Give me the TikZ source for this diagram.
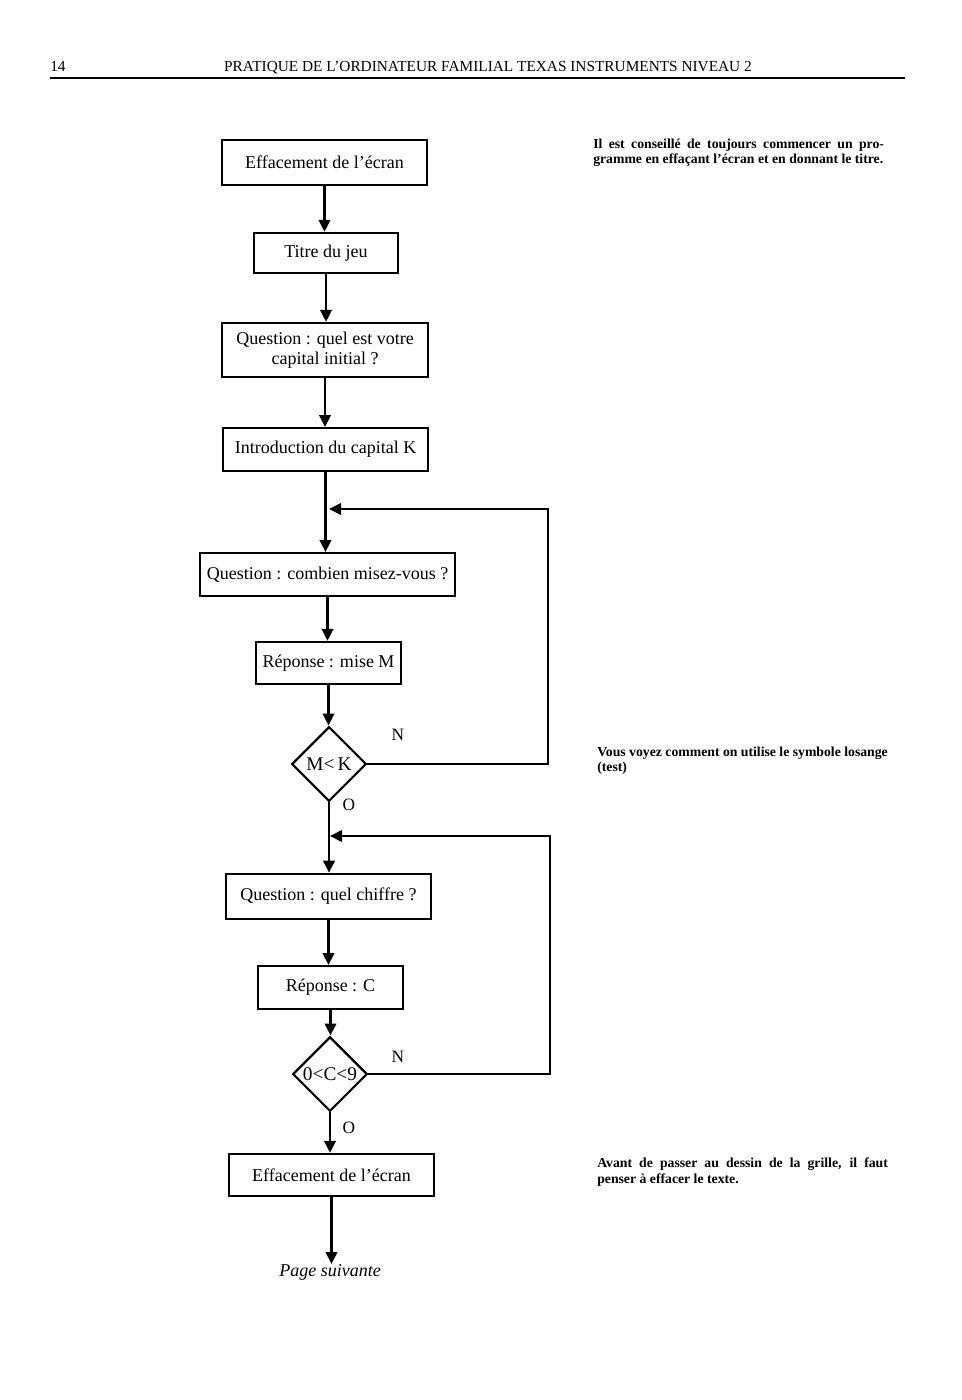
\documentclass[tikz,border=0pt]{standalone}
\usepackage{fontspec}
\setmainfont{Liberation Serif}
\usetikzlibrary{shapes.geometric,arrows.meta}
\tikzset{
  stepbox/.style={draw,line width=1.7pt,inner sep=2pt,align=center,font=\fontsize{13.5}{14.5}\selectfont},
  testbox/.style={draw,diamond,line width=1.7pt,inner sep=0pt,minimum width=56pt,minimum height=56pt,font=\fontsize{14.5}{15}\selectfont},
  flow/.style={line width=2pt,-{Triangle[length=9pt,width=8.5pt]}},
  note/.style={anchor=north west,inner sep=0pt,text width=218pt,align=justify,font=\fontsize{10.3}{11.3}\selectfont\bfseries},
  lbl/.style={font=\fontsize{13}{14}\selectfont,inner sep=0pt}
}
\begin{document}
\begin{tikzpicture}[x=0.75pt,y=-0.75pt]
\useasboundingbox (0,0) rectangle (961,1400);
% header
\node[anchor=base west,inner sep=0pt,font=\fontsize{11.5}{12}\selectfont] (pnum) at (50,71) {14};
\node[anchor=base,inner sep=0pt,font=\fontsize{11.5}{12}\selectfont] (title) at (488,71) {PRATIQUE DE L'ORDINATEUR FAMILIAL TEXAS INSTRUMENTS NIVEAU 2};
\coordinate (rl) at (50,78);
\coordinate (rr) at (905,78);
\draw[line width=1.3pt] (rl) -- (rr);
% boxes
\node[stepbox,minimum width=154pt,minimum height=34pt] (b1) at (324.5,162.5) {Effacement de l'écran};
\node[stepbox,minimum width=108pt,minimum height=30pt] (b2) at (326,253) {Titre du jeu};
\node[stepbox,minimum width=154.5pt,minimum height=40.5pt] (b3) at (325,350) {Question : quel est votre\\capital initial ?};
\node[stepbox,minimum width=154pt,minimum height=32pt] (b4) at (325.5,449.5) {Introduction du capital K};
\node[stepbox,minimum width=191pt,minimum height=32pt] (b5) at (327.5,574.5) {Question : combien misez-vous ?};
\node[stepbox,minimum width=109pt,minimum height=31.5pt] (b6) at (328.5,663) {Réponse : mise M};
\node[testbox] (d1) at (329,764) {M<\,K};
\node[stepbox,minimum width=154pt,minimum height=34pt] (b8) at (328.5,896.5) {Question : quel chiffre ?};
\node[stepbox,minimum width=109pt,minimum height=32pt] (b9) at (330.5,987.5) {Réponse : C};
\node[testbox] (d2) at (330,1074) {0<C<9};
\node[stepbox,minimum width=154pt,minimum height=31.5pt] (b11) at (331.5,1175) {Effacement de l'écran};
\node[lbl,font=\fontsize{13.5}{14}\selectfont\itshape,anchor=north] (ps) at (330,1264) {Page suivante};
% labels
\node[lbl] (n1) at (398,735) {N};
\node[lbl] (o1) at (349,805) {O};
\node[lbl] (n2) at (398,1057) {N};
\node[lbl] (o2) at (349,1128) {O};
% connectors
\draw[flow] (b1.south) -- (b1.south |- b2.north);
\draw[flow] (b2.south) -- (b2.south |- b3.north);
\draw[flow] (b3.south) -- (b3.south |- b4.north);
\draw[flow] (b4.south) -- (b4.south |- b5.north);
\draw[flow] (b5.south) -- (b5.south |- b6.north);
\draw[flow] (b6.south) -- (b6.south |- d1.north);
\draw[flow] (d1.south) -- (d1.south |- b8.north);
\draw[flow] (b8.south) -- (b8.south |- b9.north);
\draw[flow] (b9.south) -- (b9.south |- d2.north);
\draw[flow] (d2.south) -- (d2.south |- b11.north);
\draw[flow] (b11.south) -- (b11.south |- ps.north);
% loops
\coordinate (j1) at (329,509);
\coordinate (r1) at (548,764);
\draw[flow] (d1.east) -- (r1) |- (j1);
\coordinate (j2) at (330,836);
\coordinate (r2) at (550,1074);
\draw[flow] (d2.east) -- (r2) |- (j2);
% notes
\node[note] (t1) at (593,139) {Il est conseillé de toujours commencer un pro-\linebreak gramme en effaçant l'écran et en donnant le titre.};
\node[note] (t2) at (597,747) {Vous voyez comment on utilise le symbole losange\\(test)};
\node[note] (t3) at (597,1158) {Avant de passer au dessin de la grille, il faut\linebreak penser à effacer le texte.};
\end{tikzpicture}
\end{document}
